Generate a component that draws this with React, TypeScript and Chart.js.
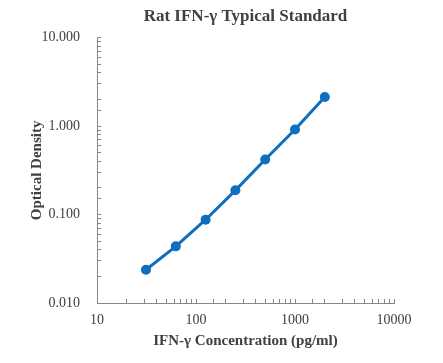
import React, { useEffect, useRef } from "react";
import { Chart, registerables } from "chart.js";

Chart.register(...registerables);

const concentrations = [31.25, 62.5, 125, 250, 500, 1000, 2000];
const opticalDensity = [0.0238, 0.0437, 0.0875, 0.188, 0.419, 0.914, 2.14];
const xTickValues = [10, 100, 1000, 10000];
const yTickValues = [0.01, 0.1, 1, 10];

const chartTitle = "Rat IFN-\u03b3 Typical Standard";
const xTitle = "IFN-\u03b3 Concentration (pg/ml)";
const yTitle = "Optical Density";

const BLUE = "#106EBE";
const AXIS = "#868686";
const TEXT = "#404040";
const FONT = "'Liberation Serif', 'Times New Roman', serif";

const isDecade = (v: number, list: number[]) =>
  list.some((t) => Math.abs(v - t) / t < 1e-6);

export default function App() {
  const ref = useRef<HTMLCanvasElement | null>(null);

  useEffect(() => {
    if (!ref.current) return;
    const chart = new Chart(ref.current, {
      type: "line",
      data: {
        datasets: [
          {
            data: concentrations.map((x, i) => ({ x, y: opticalDensity[i] })),
            borderColor: BLUE,
            backgroundColor: BLUE,
            borderWidth: 3,
            pointRadius: 5,
            pointBackgroundColor: BLUE,
            pointBorderColor: BLUE,
            pointBorderWidth: 0,
            tension: 0,
            fill: false,
          },
        ],
      },
      options: {
        animation: false,
        responsive: false,
        layout: { padding: { left: 0, right: 49, top: 0, bottom: 0 } },
        plugins: {
          legend: { display: false },
          tooltip: { enabled: false },
          title: {
            display: true,
            text: chartTitle,
            fullSize: false,
            color: TEXT,
            font: { family: FONT, size: 17, weight: "bold" },
            padding: { top: 6.8, bottom: 10.5 },
          },
        },
        scales: {
          x: {
            type: "logarithmic",
            min: 10,
            max: 10000,
            border: { display: true, color: AXIS, width: 1 },
            grid: {
              drawOnChartArea: false,
              drawTicks: true,
              tickLength: -4,
              color: AXIS,
            },
            ticks: {
              autoSkip: false,
              maxRotation: 0,
              padding: 13,
              color: TEXT,
              font: { family: FONT, size: 14 },
              callback: (v: any) => (isDecade(Number(v), xTickValues) ? String(Number(v)) : ""),
            },
            title: {
              display: true,
              text: xTitle,
              color: TEXT,
              font: { family: FONT, size: 15, weight: "bold" },
              padding: { top: 0, bottom: 13.3 },
            },
            afterFit: (s: any) => {
              s.height = 60;
            },
          },
          y: {
            type: "logarithmic",
            min: 0.01,
            max: 10,
            border: { display: true, color: AXIS, width: 1 },
            grid: {
              drawOnChartArea: false,
              drawTicks: true,
              tickLength: -4,
              color: AXIS,
            },
            ticks: {
              autoSkip: false,
              padding: 21,
              color: TEXT,
              font: { family: FONT, size: 14 },
              callback: (v: any) => (isDecade(Number(v), yTickValues) ? Number(v).toFixed(3) : ""),
            },
            title: {
              display: true,
              text: yTitle,
              color: TEXT,
              font: { family: FONT, size: 15, weight: "bold" },
              padding: { top: 28, bottom: 0 },
            },
            afterFit: (s: any) => {
              s.width = 97;
            },
          },
        },
      },
    } as any);
    return () => chart.destroy();
  }, []);

  return (
    <div style={{ position: "absolute", left: 0, top: 0, width: 443, height: 363, background: "#fff" }}>
      <canvas ref={ref} width={443} height={363} />
    </div>
  );
}
